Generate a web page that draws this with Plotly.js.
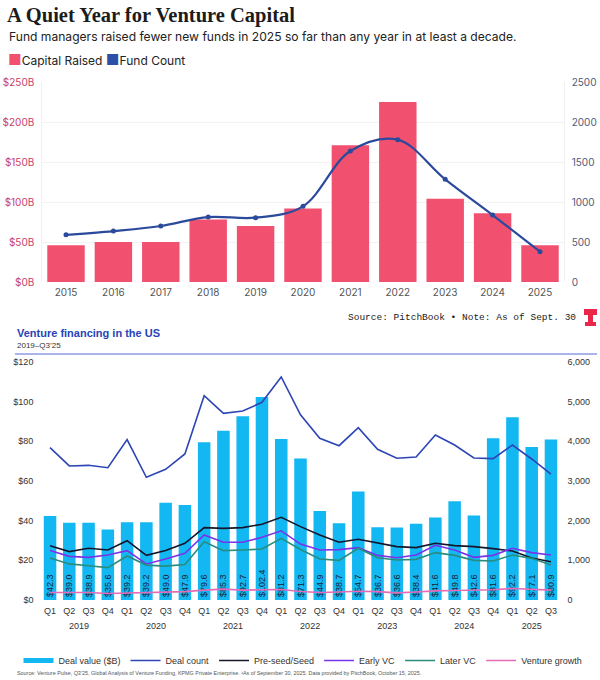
<!DOCTYPE html>
<html>
<head>
<meta charset="utf-8">
<script src="https://cdn.plot.ly/plotly-3.0.1.min.js"></script>
<style>html,body{margin:0;padding:0;background:#fff}#chart{width:600px;height:680px}</style>
</head>
<body>
<div id="chart"></div>
<script>
// ---- Top chart data ----
const fundYears = ['2015','2016','2017','2018','2019','2020','2021','2022','2023','2024','2025'];
const capitalRaised = [46, 50, 50, 78, 70, 92, 171, 225, 104, 86, 46];
const fundCount = [590, 637, 700, 812, 804, 946, 1637, 1779, 1283, 837, 379];
const capitalTicks = [0, 50, 100, 150, 200, 250];
const countTicks = [0, 500, 1000, 1500, 2000, 2500];

// ---- Bottom chart data ----
const quarterYear = ['2019','2019','2019','2019','2020','2020','2020','2020','2021','2021','2021','2021','2022','2022','2022','2022','2023','2023','2023','2023','2024','2024','2024','2024','2025','2025','2025'];
const quarterLabel = ['Q1','Q2','Q3','Q4','Q1','Q2','Q3','Q4','Q1','Q2','Q3','Q4','Q1','Q2','Q3','Q4','Q1','Q2','Q3','Q4','Q1','Q2','Q3','Q4','Q1','Q2','Q3'];
const dealValue = [42.3,39.0,38.9,35.6,39.2,39.2,49.0,47.9,79.6,85.3,92.7,102.4,81.2,71.3,44.9,38.7,54.7,36.7,36.6,38.4,41.6,49.8,42.6,81.6,92.2,77.1,80.9];
const dealCount = [3840,3380,3395,3336,4042,3093,3294,3681,5151,4706,4765,4983,5622,4670,4076,3890,4345,3798,3572,3605,4160,3908,3580,3563,3908,3555,3176];
const preSeed = [27.4,24.4,26.1,25.2,29.9,22.5,24.9,28.6,36.5,36.1,36.5,38.2,41.7,37.0,32.8,29.1,30.6,28.9,26.9,26.4,28.6,27.4,26.9,25.9,24.7,21.2,19.3];
const earlyVC = [25.0,22.0,21.5,22.7,24.9,18.2,20.7,23.5,32.8,29.1,29.1,31.6,34.9,28.2,25.2,25.4,26.4,22.5,21.3,22.7,27.6,25.2,21.5,22.5,26.1,23.9,22.7];
const laterVC = [21.2,18.2,17.3,16.3,22.2,17.6,17.1,17.9,29.4,24.9,25.2,25.7,31.1,25.5,20.7,20.0,26.1,21.3,20.2,20.5,23.9,22.5,20.0,19.7,22.7,21.0,17.6];
const ventureGrowth = [3.8,3.7,3.8,3.3,3.6,3.8,4.0,4.2,5.0,5.5,5.0,5.0,5.3,4.3,3.8,4.0,4.4,4.2,3.6,4.0,4.6,4.8,5.0,5.2,5.8,5.3,5.0];

const W = 600, H = 680;
const px = v => v / W;
const py = v => 1 - v / H;

const PINK = '#f2506f', NAVY = '#2b4a9b', LEGBLUE = '#2c4fa8';
const CYAN = '#13b7f2';

// quarter positions (category index) and year-group centres derived from the category arrays
const qIdx = quarterLabel.map((_, i) => i);
const yearNames = [...new Set(quarterYear)];
const yearCenters = yearNames.map(y => {
  const ids = qIdx.filter(i => quarterYear[i] === y);
  return ids.reduce((a, b) => a + b, 0) / ids.length;
});
const qRange = [-0.5, quarterLabel.length - 0.5];

const traces = [
  {type:'bar', x:fundYears, y:capitalRaised, name:'Capital Raised', showlegend:false, marker:{color:PINK}, width:0.79,
   xaxis:'x', yaxis:'y', hoverinfo:'skip'},
  {type:'scatter', mode:'lines+markers', x:fundYears, y:fundCount, name:'Fund Count', showlegend:false,
   line:{color:NAVY, width:2.2, shape:'spline', smoothing:1}, marker:{color:NAVY, size:5},
   xaxis:'x', yaxis:'y2', hoverinfo:'skip'},

  {type:'bar', x:qIdx, y:dealValue, name:'Deal value ($B)', showlegend:false, marker:{color:CYAN}, width:0.65,
   text:dealValue.map(v => '$' + v.toFixed(1)), textposition:'inside', insidetextanchor:'start', textangle:-90,
   constraintext:'none', textfont:{family:'Liberation Sans, Arial', size:9, color:'#1b2138'},
   xaxis:'x2', yaxis:'y3', hoverinfo:'skip'},
  {type:'scatter', mode:'lines', x:[null], y:[null], name:'Deal value ($B)', line:{color:CYAN, width:5},
   xaxis:'x2', yaxis:'y3', legend:'legend2', hoverinfo:'skip'},
  {type:'scatter', mode:'lines', x:qIdx, y:dealCount, name:'Deal count', line:{color:'#2d45b5', width:1.6},
   xaxis:'x2', yaxis:'y4', legend:'legend2', hoverinfo:'skip'},
  {type:'scatter', mode:'lines', x:qIdx, y:preSeed, name:'Pre-seed/Seed', line:{color:'#16162a', width:1.6},
   xaxis:'x2', yaxis:'y3', legend:'legend2', hoverinfo:'skip'},
  {type:'scatter', mode:'lines', x:qIdx, y:earlyVC, name:'Early VC', line:{color:'#7a33e8', width:1.6},
   xaxis:'x2', yaxis:'y3', legend:'legend2', hoverinfo:'skip'},
  {type:'scatter', mode:'lines', x:qIdx, y:laterVC, name:'Later VC', line:{color:'#2a8c7c', width:1.6},
   xaxis:'x2', yaxis:'y3', legend:'legend2', hoverinfo:'skip'},
  {type:'scatter', mode:'lines', x:qIdx, y:ventureGrowth, name:'Venture growth', line:{color:'#e56bb5', width:1.6},
   xaxis:'x2', yaxis:'y3', legend:'legend2', hoverinfo:'skip'},
  // carrier for the year-label axis
  {type:'scatter', mode:'none', x:[null], y:[null], showlegend:false, xaxis:'x3', yaxis:'y3', hoverinfo:'skip'}
];

const sans = 'Inter, Roboto, Arial, sans-serif';
const arial = 'Liberation Sans, Arial, sans-serif';

const layout = {
  width: W, height: H,
  margin:{l:0, r:0, t:0, b:0},
  paper_bgcolor:'#fff', plot_bgcolor:'rgba(0,0,0,0)',
  showlegend:true,
  hovermode:false,
  title:{text:'A Quiet Year for Venture Capital', x:px(7), xanchor:'left', xref:'paper', y:py(15), yanchor:'middle', yref:'paper',
         font:{family:'Liberation Serif, DejaVu Serif, serif', size:20.5, weight:'bold', color:'#1c1c1c'}},
  xaxis:{domain:[px(42.3), px(563.7)], anchor:'y', type:'category', range:[-0.5, fundYears.length - 0.5],
         showgrid:false, zeroline:false, showline:false, ticks:'', ticklabelstandoff:3,
         tickfont:{family:sans, size:10, color:'#555'}},
  yaxis:{domain:[py(282), py(82)], anchor:'x', range:[0,250], tickvals:capitalTicks,
         ticktext:capitalTicks.map(v => '$' + v + 'B'), gridcolor:'#f2f2f4', zeroline:false,
         showline:true, linecolor:'#f0f0f2', ticklabelstandoff:5,
         tickfont:{family:sans, size:10, color:'#c8406a'}},
  yaxis2:{overlaying:'y', side:'right', anchor:'x', range:[0,2500], tickvals:countTicks, showgrid:false,
          zeroline:false, showline:true, linecolor:'#f0f0f2', ticklabelstandoff:5,
          tickfont:{family:sans, size:10, color:'#4c5a7c'}},

  xaxis2:{domain:[px(40.4), px(560.6)], anchor:'y3', type:'linear', range:qRange, tickvals:qIdx, ticktext:quarterLabel,
          showgrid:false, zeroline:false, showline:false, ticks:'', ticklabelstandoff:4,
          tickfont:{family:arial, size:9, color:'#333'}},
  xaxis3:{overlaying:'x2', anchor:'y3', side:'bottom', type:'linear', range:qRange, tickvals:yearCenters, ticktext:yearNames,
          showgrid:false, zeroline:false, showline:false, ticks:'', ticklabelstandoff:19,
          tickfont:{family:arial, size:9, color:'#333'}},
  yaxis3:{domain:[py(600), py(362)], anchor:'x2', range:[0,120], dtick:20, tickprefix:'$', showgrid:false,
          zeroline:false, showline:false, ticklabelstandoff:6, tickfont:{family:arial, size:9, color:'#333'}},
  yaxis4:{overlaying:'y3', side:'right', anchor:'x2', range:[0,6000], dtick:1000, tickformat:',d', showgrid:false,
          zeroline:false, showline:false, ticklabelstandoff:6, tickfont:{family:arial, size:9, color:'#333'}},

  legend2:{orientation:'h', x:0.505, xanchor:'center', y:py(646), yanchor:'top', bgcolor:'rgba(0,0,0,0)',
           font:{family:arial, size:9, color:'#333'}, itemwidth:30},

  annotations:[
    {text:'Fund managers raised fewer new funds in 2025 so far than any year in at least a decade.',
     xref:'paper', yref:'paper', x:px(7), y:py(36), xanchor:'left', yanchor:'middle', showarrow:false,
     font:{family:sans, size:12.1, color:'#222'}},
    {text:'<span style="color:' + PINK + ';font-size:15px">\u25A0</span>Capital Raised <span style="color:' + LEGBLUE + ';font-size:15px">\u25A0</span>Fund Count',
     xref:'paper', yref:'paper', x:px(6), y:py(59), xanchor:'left', yanchor:'middle', showarrow:false,
     font:{family:sans, size:12, color:'#222'}},
    {text:'Source: PitchBook \u2022 Note: As of Sept. 30', xref:'paper', yref:'paper', x:px(578), y:py(317),
     xanchor:'right', yanchor:'middle', showarrow:false, font:{family:'Liberation Mono, DejaVu Sans Mono, monospace', size:9.5, color:'#222'}},
    {text:'<b>Venture financing in the US</b>', xref:'paper', yref:'paper', x:px(15), y:py(333), xanchor:'left',
     yanchor:'middle', showarrow:false, font:{family:arial, size:11, color:'#2743b8'}},
    {text:'2019\u2013Q3\u201925', xref:'paper', yref:'paper', x:px(15), y:py(345), xanchor:'left', yanchor:'middle',
     showarrow:false, font:{family:arial, size:8, color:'#333'}},
    {text:'Source: Venture Pulse, Q3\u201925, Global Analysis of Venture Funding, KPMG Private Enterprise. \u00b9As of September 30, 2025. Data provided by PitchBook, October 15, 2025.',
     xref:'paper', yref:'paper', x:px(15), y:py(673), xanchor:'left', yanchor:'middle', showarrow:false,
     font:{family:arial, size:5.4, color:'#555'}}
  ],
  shapes:[
    {type:'line', xref:'paper', yref:'paper', x0:px(15), x1:px(597), y0:py(354), y1:py(354), line:{color:'#8f9be0', width:1.5}},
    {type:'rect', xref:'paper', yref:'paper', x0:px(584), x1:px(597), y0:py(309), y1:py(315), fillcolor:'#e8274b', line:{width:0}},
    {type:'rect', xref:'paper', yref:'paper', x0:px(588), x1:px(593), y0:py(315), y1:py(322), fillcolor:'#e8274b', line:{width:0}},
    {type:'rect', xref:'paper', yref:'paper', x0:px(585), x1:px(596), y0:py(322), y1:py(326), fillcolor:'#e8274b', line:{width:0}}
  ]
};

Plotly.newPlot('chart', traces, layout, {staticPlot:true, displayModeBar:false});
</script>
</body>
</html>
